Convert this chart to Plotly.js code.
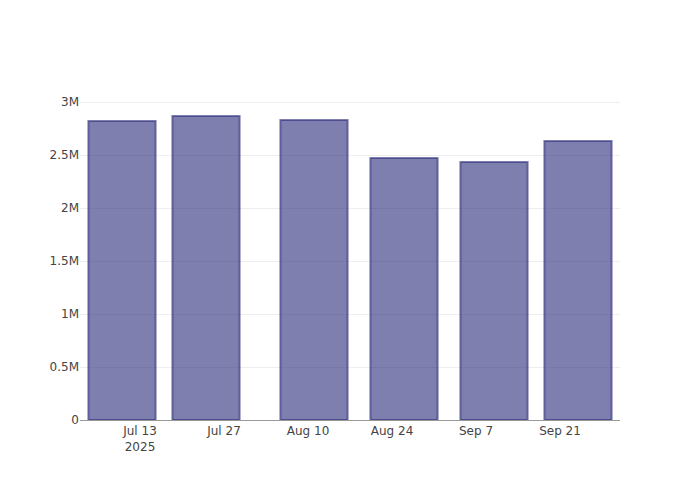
<!DOCTYPE html>
<html>
<head>
<meta charset="utf-8">
<script src="https://cdn.plot.ly/plotly-3.0.1.min.js"></script>
<style>html,body{margin:0;padding:0;background:#fff;}#chart{width:700px;height:500px;}</style>
</head>
<body>
<div id="chart"></div>
<script>
var dates = ["2025-07-10", "2025-07-24", "2025-08-11", "2025-08-26", "2025-09-10", "2025-09-24"];
var values = [2821000, 2868000, 2830000, 2472000, 2434000, 2632000];
var yTickVals = [0, 500000, 1000000, 1500000, 2000000, 2500000, 3000000];
var yTickText = ["0", "0.5M", "1M", "1.5M", "2M", "2.5M", "3M"];

var trace = {
  type: "bar",
  x: dates,
  y: values,
  marker: {
    color: "rgba(42,42,122,0.6)",
    line: {color: "rgba(42,42,122,0.6)", width: 2}
  },
  hoverinfo: "x+y"
};

var layout = {
  width: 700,
  height: 500,
  margin: {l: 80, r: 80, t: 100, b: 80},
  paper_bgcolor: "#fff",
  plot_bgcolor: "#fff",
  font: {family: "DejaVu Sans, sans-serif", size: 12, color: "#444"},
  showlegend: false,
  xaxis: {
    type: "date",
    showgrid: false,
    showline: true,
    linecolor: "#999",
    linewidth: 1,
    ticks: "",
    tickformat: "%b %-d\n%Y"
  },
  yaxis: {
    autorange: true,
    tickvals: yTickVals,
    ticktext: yTickText,
    gridcolor: "#eee",
    zeroline: false,
    ticks: ""
  }
};

Plotly.newPlot("chart", [trace], layout, {displayModeBar: false});
</script>
</body>
</html>
